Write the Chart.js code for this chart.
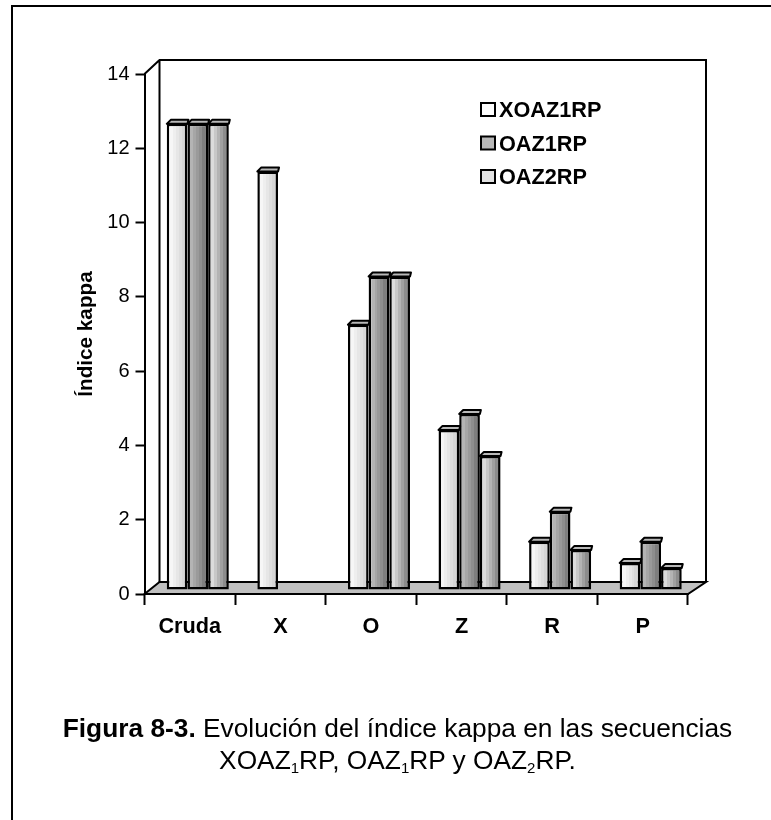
<!DOCTYPE html>
<html>
<head>
<meta charset="utf-8">
<script src="https://cdn.jsdelivr.net/npm/chart.js@4/dist/chart.umd.min.js"></script>
<style>
html, body { margin: 0; padding: 0; background: #fff; }
#page { position: relative; width: 771px; height: 820px; overflow: hidden; }
#frame { position: absolute; left: 11px; top: 5px; width: 800px; height: 860px; border: 2.5px solid #000; }
#wrap { position: absolute; left: 0; top: 0; width: 771px; height: 820px; }
#caption { position: absolute; left: 0; top: 712px; width: 795px; text-align: center; font: 26.3px/32px "Liberation Sans", Arial, sans-serif; color: #000; }
#caption sub { font-size: 15px; line-height: 0; vertical-align: -4px; }
</style>
</head>
<body>
<div id="page">
  <div id="frame"></div>
  <div id="wrap"><canvas id="myChart" width="771" height="820"></canvas></div>
  <div id="caption"><b>Figura 8-3.</b> Evolución del índice kappa en las secuencias<br>XOAZ<sub>1</sub>RP, OAZ<sub>1</sub>RP y OAZ<sub>2</sub>RP.</div>
</div>
<script>
const categories = ['Cruda', 'X', 'O', 'Z', 'R', 'P']
const xoaz1rp = [12.55, 11.27, 7.14, 4.31, 1.30, 0.73]
const oaz1rp = [12.55, null, 8.44, 4.74, 2.11, 1.30]
const oaz2rp = [12.55, null, 8.44, 3.61, 1.08, 0.59]
const yTicks = [0, 2, 4, 6, 8, 10, 12, 14]

const shades = [
    ['#ffffff', '#f6f6f6', '#eeeeee', '#e6e6e6', '#dedede', '#d6d6d6', '#cccccc'],
    ['#c0c0c0', '#b4b4b4', '#a6a6a6', '#9a9a9a', '#8e8e8e', '#7e7e7e', '#6c6c6c'],
    ['#ececec', '#dcdcdc', '#c8c8c8', '#b4b4b4', '#a0a0a0', '#8c8c8c', '#747474']
]

// the bars sit a little behind the front edge of the floor
const shiftX = 8
const shiftY = -4

const room = {
    id: 'room',
    beforeDatasetsDraw(chart) {
        const c = chart.ctx
        const a = chart.chartArea
        c.save()
        c.lineWidth = 2
        c.strokeStyle = '#000'
        c.beginPath()
        c.moveTo(a.left, a.top)
        c.lineTo(a.left + 15, a.top - 14)
        c.lineTo(a.right + 18, a.top - 14)
        c.lineTo(a.right + 18, a.bottom - 12)
        c.moveTo(a.left + 15, a.top - 14)
        c.lineTo(a.left + 15, a.bottom - 12)
        c.stroke()
        c.fillStyle = '#c0c0c0'
        c.beginPath()
        c.moveTo(a.left, a.bottom)
        c.lineTo(a.left + 15, a.bottom - 12)
        c.lineTo(a.right + 18, a.bottom - 12)
        c.lineTo(a.right, a.bottom)
        c.closePath()
        c.fill()
        c.stroke()
        c.restore()
        c.save()
        c.translate(shiftX, shiftY)
    },
    beforeDatasetDraw(chart, args) {
        const c = chart.ctx
        args.meta.data.forEach(el => {
            const g = c.createLinearGradient(el.x - el.width / 2, 0, el.x + el.width / 2, 0)
            const s = shades[args.index]
            s.forEach((col, i) => {
                g.addColorStop(i / s.length, col)
                g.addColorStop((i + 1) / s.length, col)
            })
            el.options = Object.assign({}, el.options, { backgroundColor: g })
        })
    },
    afterDatasetDraw(chart, args) {
        const c = chart.ctx
        args.meta.data.forEach((el, i) => {
            if (chart.data.datasets[args.index].data[i] === null) return
            const l = el.x - el.width / 2
            const r = el.x + el.width / 2
            c.save()
            c.fillStyle = '#b8b8b8'
            c.strokeStyle = '#000'
            c.lineWidth = 2
            c.lineJoin = 'round'
            c.beginPath()
            c.moveTo(l, el.y)
            c.lineTo(l + 4, el.y - 4)
            c.lineTo(r + 1, el.y - 4)
            c.lineTo(r, el.y)
            c.closePath()
            c.fill()
            c.stroke()
            c.restore()
        })
    },
    afterDatasetsDraw(chart) {
        chart.ctx.restore()
    },
    afterDraw(chart) {
        const c = chart.ctx
        c.save()
        c.font = 'bold 21.7px "Liberation Sans"'
        c.textBaseline = 'alphabetic'
        chart.data.datasets.forEach((d, i) => {
            const y = 103 + i * 33.5
            c.fillStyle = d.backgroundColor
            c.strokeStyle = '#000'
            c.lineWidth = 2
            c.fillRect(481, y, 14, 13)
            c.strokeRect(481, y, 14, 13)
            c.fillStyle = '#000'
            c.fillText(d.label, 499, y + 14)
        })
        c.restore()
    }
}

new Chart(document.getElementById('myChart'), {
    type: 'bar',
    data: {
        labels: categories,
        datasets: [
            { label: 'XOAZ1RP', data: xoaz1rp, backgroundColor: '#ffffff' },
            { label: 'OAZ1RP', data: oaz1rp, backgroundColor: '#b8b8b8' },
            { label: 'OAZ2RP', data: oaz2rp, backgroundColor: '#e0e0e0' }
        ]
    },
    options: {
        responsive: false,
        animation: false,
        events: [],
        layout: { padding: { left: 74, top: 74, right: 83, bottom: 0 } },
        datasets: {
            bar: {
                categoryPercentage: 0.685,
                barPercentage: 1,
                borderColor: '#000',
                borderWidth: 2.5,
                borderSkipped: false
            }
        },
        plugins: {
            tooltip: { enabled: false },
            title: { display: false },
            legend: { display: false }
        },
        scales: {
            x: {
                afterFit: s => { s.height = 226 },
                border: { color: '#000', width: 2 },
                grid: { drawOnChartArea: false, offset: true, tickLength: 11, tickColor: '#000', tickWidth: 2 },
                ticks: { color: '#000', padding: 9, maxRotation: 0, font: { family: '"Liberation Sans"', size: 21.7, weight: 'bold' } }
            },
            y: {
                min: 0,
                max: 14,
                afterFit: s => { s.width = 70.5 },
                afterBuildTicks: s => { s.ticks = yTicks.map(v => ({ value: v })) },
                border: { color: '#000', width: 2 },
                grid: { drawOnChartArea: false, tickLength: 9, tickColor: '#000', tickWidth: 2 },
                ticks: { color: '#000', padding: 6, font: { family: '"Liberation Sans"', size: 20 } },
                title: {
                    display: true,
                    text: 'Índice kappa',
                    color: '#000',
                    padding: 0,
                    font: { family: '"Liberation Sans"', size: 20.7, weight: 'bold' }
                }
            }
        }
    },
    plugins: [room]
})
</script>
</body>
</html>
